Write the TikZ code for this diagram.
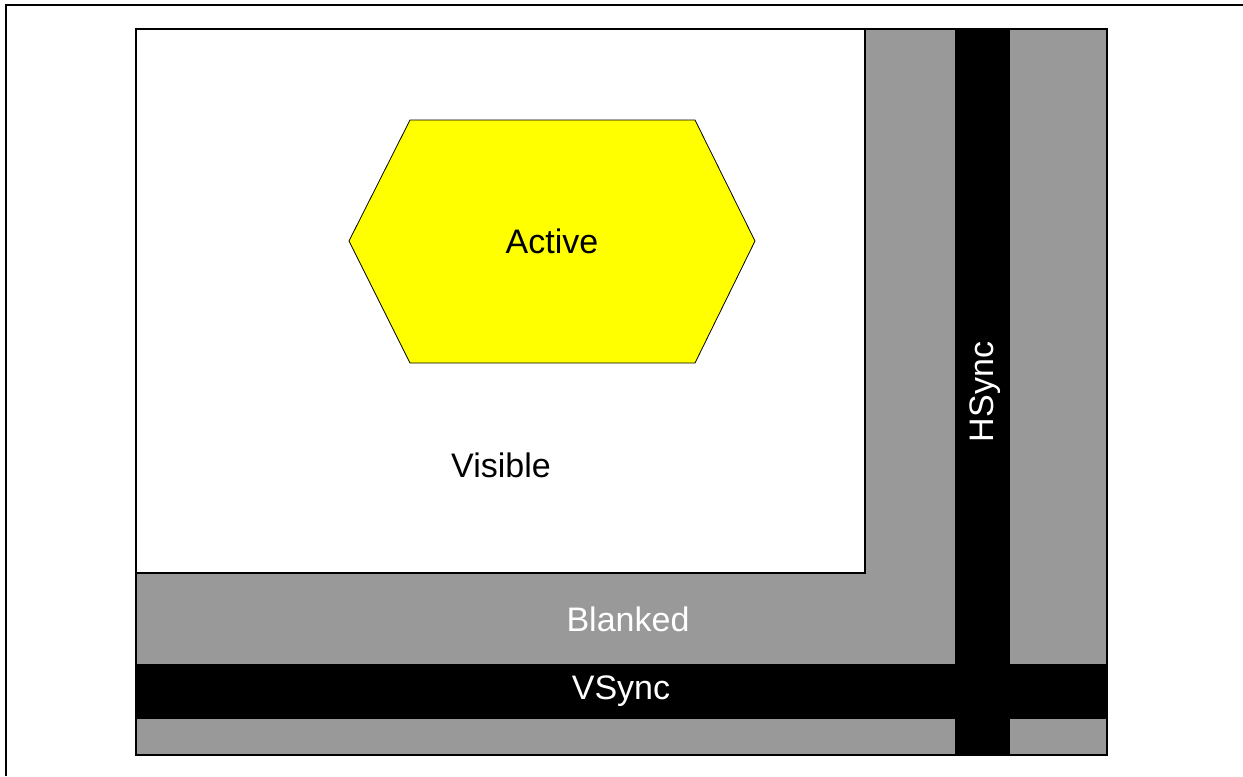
\documentclass[tikz,border=0pt]{standalone}
\usepackage{fontspec}
\setmainfont{Liberation Sans}
\definecolor{blankgray}{HTML}{999999}
\definecolor{activeyellow}{HTML}{FFFF00}
\tikzset{
  lbl/.style={inner sep=0pt, font=\fontsize{25.5}{30}\selectfont},
  band/.style={fill=black, draw=none},
}
\begin{document}
\begin{tikzpicture}[x=0.75pt,y=-0.75pt]
\useasboundingbox (0,0) rectangle (1243,776);
% outer frame (top and left edges)
\draw[line width=1.2pt] (6,776) -- (6,5) -- (1243,5);
% blanked area
\fill[blankgray] (136,29) rectangle (1107,755);
% visible area
\draw[fill=white, line width=1.8pt] (136,29) rectangle (865,573);
% sync bands
\fill[band] (955,29) rectangle (1010,755);
\fill[band] (136,664) rectangle (1107,719);
% main border
\draw[line width=1.8pt] (136,29) rectangle (1107,755);
% active hexagon
\draw[fill=activeyellow, line width=0.6pt] (410,120) -- (695,120) -- (755,241) -- (695,363) -- (410,363) -- (349,241) -- cycle;
\node[lbl] (active) at (552,241) {Active};
\node[lbl] (visible) at (501,465) {Visible};
\node[lbl, text=white] (blanked) at (628,619) {Blanked};
\node[lbl, text=white] (vsync) at (621,691) {VSync};
\node[lbl, text=white, rotate=90] (hsync) at (985,392) {HSync};
\end{tikzpicture}
\end{document}
